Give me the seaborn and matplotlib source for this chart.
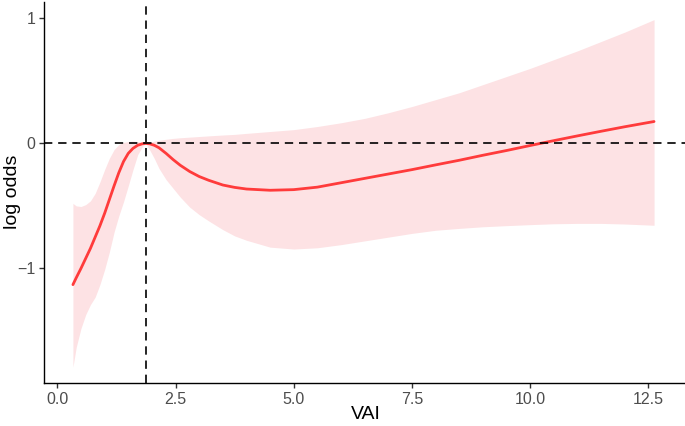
import matplotlib
matplotlib.use("Agg")
import matplotlib.pyplot as plt
import seaborn as sns
import pandas as pd

# ---- data ----
vai = [0.33, 0.4, 0.5, 0.6, 0.7, 0.8, 0.9, 1.0, 1.1, 1.2, 1.3, 1.4, 1.5, 1.6, 1.7, 1.8,
       1.87, 1.95, 2.05, 2.15, 2.3, 2.45, 2.6, 2.8, 3.0, 3.2, 3.5, 3.75, 4.0, 4.5, 5.0,
       5.5, 6.0, 6.5, 7.0, 7.5, 8.0, 8.5, 9.0, 9.5, 10.0, 10.5, 11.0, 11.5, 12.0, 12.62]
log_odds = [-1.13, -1.075, -1.00, -0.92, -0.84, -0.75, -0.66, -0.56, -0.45, -0.34,
            -0.235, -0.145, -0.08, -0.04, -0.015, -0.003, 0.0, -0.003, -0.015, -0.035,
            -0.08, -0.13, -0.175, -0.225, -0.265, -0.295, -0.333, -0.352, -0.365,
            -0.375, -0.37, -0.35, -0.315, -0.28, -0.245, -0.21, -0.172, -0.135, -0.095,
            -0.057, -0.017, 0.022, 0.06, 0.097, 0.133, 0.175]
upper = [-0.48, -0.50, -0.505, -0.49, -0.46, -0.40, -0.31, -0.21, -0.12, -0.05, -0.01,
         0.008, 0.015, 0.018, 0.015, 0.008, 0.0, 0.01, 0.018, 0.025, 0.033, 0.04, 0.045,
         0.05, 0.055, 0.06, 0.067, 0.072, 0.08, 0.095, 0.11, 0.135, 0.165, 0.20, 0.245,
         0.295, 0.35, 0.405, 0.47, 0.535, 0.60, 0.67, 0.74, 0.815, 0.89, 0.99]
lower = [-1.79, -1.63, -1.48, -1.37, -1.29, -1.23, -1.13, -1.01, -0.87, -0.71, -0.58,
         -0.467, -0.34, -0.21, -0.09, -0.025, 0.0, -0.05, -0.12, -0.2, -0.29, -0.36,
         -0.43, -0.51, -0.57, -0.62, -0.69, -0.74, -0.775, -0.83, -0.845, -0.835, -0.81,
         -0.78, -0.75, -0.72, -0.695, -0.68, -0.667, -0.658, -0.65, -0.643, -0.64, -0.64,
         -0.645, -0.655]
ref_x = 1.87
ref_y = 0.0
x_ticks = [0.0, 2.5, 5.0, 7.5, 10.0, 12.5]
y_ticks = [-1, 0, 1]

df = pd.DataFrame({"VAI": vai, "log odds": log_odds, "upper": upper, "lower": lower})

sns.set_theme(style="ticks")
plt.rcParams['font.family'] = ['Liberation Sans', 'DejaVu Sans']

fig = plt.figure(figsize=(6.85, 4.26), dpi=100)
ax = fig.add_axes([0.0647, 0.100, 0.935, 0.895])

ax.fill_between(df["VAI"], df["lower"], df["upper"], color="#FDE2E4", linewidth=0, zorder=1)
sns.lineplot(data=df, x="VAI", y="log odds", ax=ax, color="#FF3B3B", linewidth=2, zorder=3)

ax.axhline(ref_y, color="black", linestyle=(0, (5, 3.5)), linewidth=1.2, zorder=4)
ax.axvline(ref_x, color="black", linestyle=(0, (5, 3.5)), linewidth=1.2, zorder=4)

ax.set_xlim(-0.275, 13.27)
ax.set_ylim(-1.92, 1.13)
ax.set_xticks(x_ticks)
ax.set_xticklabels([f"{t:.1f}" for t in x_ticks])
ax.set_yticks(y_ticks)
ax.set_yticklabels(["\u22121", "0", "1"])

for s in ["top", "right"]:
    ax.spines[s].set_visible(False)
for s in ["left", "bottom"]:
    ax.spines[s].set_color("black")
    ax.spines[s].set_linewidth(1.0)

ax.tick_params(axis="both", which="major", length=3.5, width=1.0, color="#333333",
               labelsize=11.5, labelcolor="#4D4D4D", pad=3)
ax.set_xlabel("VAI", fontsize=14, color="black")
ax.set_ylabel("log odds", fontsize=14, color="black")
ax.xaxis.set_label_coords(0.502, -0.058)
ax.yaxis.set_label_coords(-0.036, 0.502)

fig.savefig("out.png", dpi=100)
